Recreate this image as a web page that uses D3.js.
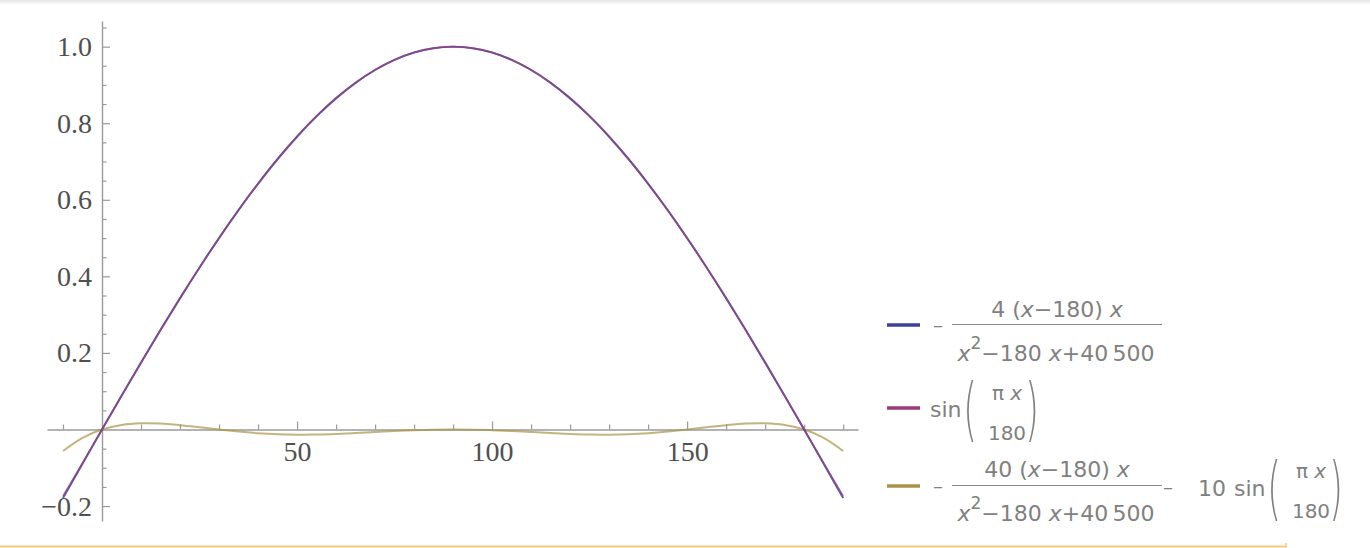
<!DOCTYPE html>
<html><head><meta charset="utf-8">
<script src="https://cdn.jsdelivr.net/npm/d3@7"></script>
<style>html,body{margin:0;padding:0;background:#fff;overflow:hidden}</style>
</head><body>
<svg id="chart" width="1370" height="548"></svg>
<script>
// ---- data ----
const xValues = [-10,-5,0,5,10,15,20,25,30,35,40,45,50,55,60,65,70,75,80,85,90,95,100,105,110,115,120,125,130,135,140,145,150,155,160,165,170,175,180,185,190];
const approxValues = [-0.1792,-0.0893,0,0.0883,0.1753,0.2604,0.3432,0.4232,0.5,0.5730,0.6418,0.7059,0.7647,0.8178,0.8649,0.9054,0.9390,0.9655,0.9846,0.9961,1,0.9961,0.9846,0.9655,0.9390,0.9054,0.8649,0.8178,0.7647,0.7059,0.6418,0.5730,0.5,0.4232,0.3432,0.2604,0.1753,0.0883,0,-0.0893,-0.1792];
const sinValues = [-0.1736,-0.0872,0,0.0872,0.1736,0.2588,0.3420,0.4226,0.5,0.5736,0.6428,0.7071,0.7660,0.8192,0.8660,0.9063,0.9397,0.9659,0.9848,0.9962,1,0.9962,0.9848,0.9659,0.9397,0.9063,0.8660,0.8192,0.7660,0.7071,0.6428,0.5736,0.5,0.4226,0.3420,0.2588,0.1736,0.0872,0,-0.0872,-0.1736];
const errorValues = [-0.0560,-0.0216,0,0.0117,0.0161,0.0154,0.0114,0.0059,0,-0.0054,-0.0096,-0.0123,-0.0134,-0.0131,-0.0116,-0.0093,-0.0067,-0.0041,-0.0019,-0.0005,0,-0.0005,-0.0019,-0.0041,-0.0067,-0.0093,-0.0116,-0.0131,-0.0134,-0.0123,-0.0096,-0.0054,0,0.0059,0.0114,0.0154,0.0161,0.0117,0,-0.0216,-0.0560];
const xMajorTicks = [50,100,150];
const xMinorTicks = [-10,10,20,30,40,60,70,80,90,110,120,130,140,160,170,180,190];
const yMajorTicks = [-0.2,0.2,0.4,0.6,0.8,1.0];
const yMinorTicks = [-0.15,-0.1,-0.05,0.05,0.1,0.15,0.25,0.3,0.35,0.45,0.5,0.55,0.65,0.7,0.75,0.85,0.9,0.95,1.05];

const seriesColors = ["#3d3f9a","#9a3c78","#a89448"];

const svg = d3.select("#chart");

// frame decorations
const grad = svg.append("defs").append("linearGradient").attr("id","topg").attr("x1",0).attr("x2",0).attr("y1",0).attr("y2",1);
grad.append("stop").attr("offset","0%").attr("stop-color","#e6e6e6");
grad.append("stop").attr("offset","100%").attr("stop-color","#ffffff");
svg.append("rect").attr("x",0).attr("y",0).attr("width",1370).attr("height",5).attr("fill","url(#topg)");
svg.append("line").attr("x1",0).attr("x2",1286).attr("y1",546.5).attr("y2",546.5).attr("stroke","#f6c97c").attr("stroke-width",2);
svg.append("line").attr("x1",1286).attr("x2",1286).attr("y1",543).attr("y2",548).attr("stroke","#f6c97c").attr("stroke-width",1.5);

const x = d3.scaleLinear().domain([-14.1, 193.8]).range([47, 858]);
const y = d3.scaleLinear().domain([-0.239, 1.067]).range([521, 21]);

const axisColor = "#9a9a9a";
const labelFont = "'Liberation Serif','DejaVu Serif',serif";

// y axis
const gy = svg.append("g").attr("transform",`translate(${x(0)},0)`);
gy.call(d3.axisLeft(y).tickValues(yMajorTicks).tickSizeInner(-8).tickSizeOuter(0).tickPadding(10).tickFormat(d3.format(".1f")));
const gy2 = svg.append("g").attr("transform",`translate(${x(0)},0)`);
gy2.call(d3.axisLeft(y).tickValues(yMinorTicks).tickSizeInner(-4.5).tickSizeOuter(0).tickFormat(""));
gy2.select(".domain").remove();

// x axis
const gx = svg.append("g").attr("transform",`translate(0,${y(0)})`);
gx.call(d3.axisBottom(x).tickValues(xMajorTicks).tickSizeInner(-8).tickSizeOuter(0).tickPadding(12).tickFormat(d3.format("d")));
const gx2 = svg.append("g").attr("transform",`translate(0,${y(0)})`);
gx2.call(d3.axisBottom(x).tickValues(xMinorTicks).tickSizeInner(-5).tickSizeOuter(0).tickFormat(""));
gx2.select(".domain").remove();

svg.selectAll(".domain").attr("stroke",axisColor).attr("stroke-width",1.4);
svg.selectAll(".tick line").attr("stroke",axisColor).attr("stroke-width",1.2);
svg.selectAll(".tick text").attr("font-family",labelFont).attr("font-size",28).attr("fill","#505050");

// curves
const pts = vals => xValues.map((xv,i)=>[xv, vals[i]]);
const line = d3.line().x(d=>x(d[0])).y(d=>y(d[1])).curve(d3.curveCatmullRom);
const plot = svg.append("g");
plot.append("path").attr("d",line(pts(errorValues))).attr("fill","none").attr("stroke",seriesColors[2]).attr("stroke-width",2).attr("stroke-opacity",0.7);
plot.append("path").attr("d",line(pts(approxValues))).attr("fill","none").attr("stroke",seriesColors[0]).attr("stroke-width",2).attr("stroke-opacity",0.85);
plot.append("path").attr("d",line(pts(sinValues))).attr("fill","none").attr("stroke",seriesColors[1]).attr("stroke-width",1.6).attr("stroke-opacity",0.7);

// legend
const lg = svg.append("g").attr("font-family","'DejaVu Sans',sans-serif").attr("font-size",22).attr("fill","#808080");
const swatchY = [325, 408, 486];
swatchY.forEach((sy,i)=>{
  lg.append("line").attr("x1",887).attr("x2",920).attr("y1",sy).attr("y2",sy).attr("stroke",seriesColors[i]).attr("stroke-width",3.5);
});
function addRich(parent, xPos, yPos, parts, anchor, size){
  const t = parent.append("text").attr("x",xPos).attr("y",yPos).attr("text-anchor",anchor||"start");
  if(size) t.attr("font-size",size);
  parts.forEach(p=>{
    const s = t.append("tspan").text(p.t);
    if(p.i) s.attr("font-style","italic");
    if(p.sup){ s.attr("font-size",17).attr("dy",-12); }
    if(p.unsup){ s.attr("dy",12); }
  });
  return t;
}
function bigParen(parent, xPos, yMid, ch){
  parent.append("text").attr("x",0).attr("y",0).attr("font-size",70).attr("font-weight",200)
    .attr("transform",`translate(${xPos},${yMid+22}) scale(0.5,1)`).attr("text-anchor","middle").text(ch);
}
// row 1
lg.append("text").attr("x",938).attr("y",332).attr("text-anchor","middle").attr("font-size",20).text("\u2013");
lg.append("line").attr("x1",952).attr("x2",1162).attr("y1",324.5).attr("y2",324.5).attr("stroke","#8a8a8a").attr("stroke-width",1.2);
addRich(lg,1057,317,[{t:"4 ("},{t:"x",i:1},{t:"\u2212180) "},{t:"x",i:1}],"middle");
addRich(lg,1056,361,[{t:"x",i:1},{t:"2",sup:1},{t:"\u2212180 ",unsup:1},{t:"x",i:1},{t:"+40\u2009500"}],"middle");
// row 2
lg.append("text").attr("x",930).attr("y",417).text("sin");
bigParen(lg,970,411,"(");
bigParen(lg,1032,411,")");
addRich(lg,1007,400,[{t:"\u03c0 "},{t:"x",i:1}],"middle",20);
lg.append("text").attr("x",1007).attr("y",440).attr("text-anchor","middle").attr("font-size",20).text("180");
// row 3
lg.append("text").attr("x",938).attr("y",493).attr("text-anchor","middle").attr("font-size",20).text("\u2013");
lg.append("line").attr("x1",952).attr("x2",1162).attr("y1",485.5).attr("y2",485.5).attr("stroke","#8a8a8a").attr("stroke-width",1.2);
addRich(lg,1057,477,[{t:"40 ("},{t:"x",i:1},{t:"\u2212180) "},{t:"x",i:1}],"middle");
addRich(lg,1056,521,[{t:"x",i:1},{t:"2",sup:1},{t:"\u2212180 ",unsup:1},{t:"x",i:1},{t:"+40\u2009500"}],"middle");
lg.append("text").attr("x",1168).attr("y",494).attr("text-anchor","middle").attr("font-size",20).text("\u2013");
lg.append("text").attr("x",1198).attr("y",496).text("10");
lg.append("text").attr("x",1234).attr("y",496).text("sin");
bigParen(lg,1274,490,"(");
bigParen(lg,1336,490,")");
addRich(lg,1311,478,[{t:"\u03c0 "},{t:"x",i:1}],"middle",20);
lg.append("text").attr("x",1311).attr("y",518).attr("text-anchor","middle").attr("font-size",20).text("180");
</script>
</body></html>
